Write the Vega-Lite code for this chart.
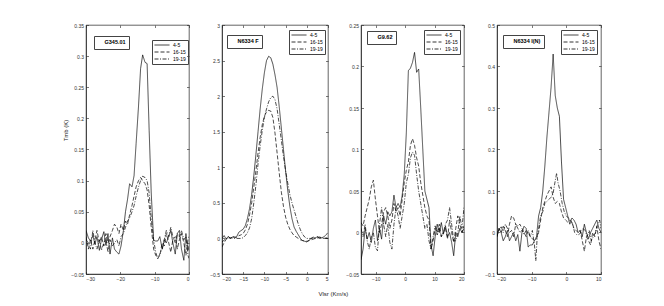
{
  "$schema": "https://vega.github.io/schema/vega-lite/v6.json",
  "padding": {"left": 62, "top": 22, "right": 5, "bottom": 5},
  "background": "white",
  "bounds": "flush",
  "spacing": 33,
  "title": {"text": "Vlsr (Km/s)", "orient": "bottom", "anchor": "middle", "fontSize": 6, "fontWeight": "normal", "font": "Liberation Sans", "color": "#222", "offset": 9},
  "config": {
    "font": "Liberation Sans",
    "view": {"stroke": "#222", "strokeWidth": 0.7},
    "axis": {"grid": false, "domainColor": "#222", "domainWidth": 0.7, "tickColor": "#222", "tickWidth": 0.6, "tickSize": -2.5, "labelPadding": 5, "labelFontSize": 5, "labelColor": "#333", "labelFont": "Liberation Sans", "titleFontSize": 6, "titleFontWeight": "normal", "titleColor": "#222"},
    "legend": {"title": null}
  },
  "resolve": {
    "scale": {"x": "independent", "y": "independent", "color": "independent", "strokeDash": "independent"},
    "legend": {"color": "independent", "strokeDash": "independent"}
  },
  "datasets": {
    "p1": [
      {"s":"4-5","v":-30,"t":0.02},{"s":"4-5","v":-29.3,"t":0.008},{"s":"4-5","v":-28.7,"t":0.003},{"s":"4-5","v":-28,"t":0.012},{"s":"4-5","v":-27.4,"t":-0.002},{"s":"4-5","v":-26.8,"t":0.01},{"s":"4-5","v":-26.1,"t":-0.012},{"s":"4-5","v":-25.5,"t":0.005},{"s":"4-5","v":-24.8,"t":0.018},{"s":"4-5","v":-24.2,"t":-0.004},{"s":"4-5","v":-23.6,"t":0.015},{"s":"4-5","v":-23,"t":-0.018},{"s":"4-5","v":-22.3,"t":0.008},{"s":"4-5","v":-21.7,"t":-0.01},{"s":"4-5","v":-21,"t":-0.015},{"s":"4-5","v":-20.4,"t":-0.018},{"s":"4-5","v":-19.8,"t":-0.005},{"s":"4-5","v":-19.1,"t":0.02},{"s":"4-5","v":-18.5,"t":0.05},{"s":"4-5","v":-17.9,"t":0.07},{"s":"4-5","v":-17.3,"t":0.095},{"s":"4-5","v":-16.6,"t":0.09},{"s":"4-5","v":-16,"t":0.108},{"s":"4-5","v":-15.4,"t":0.16},{"s":"4-5","v":-14.7,"t":0.22},{"s":"4-5","v":-14.1,"t":0.28},{"s":"4-5","v":-13.5,"t":0.302},{"s":"4-5","v":-12.8,"t":0.29},{"s":"4-5","v":-12.2,"t":0.288},{"s":"4-5","v":-11.6,"t":0.18},{"s":"4-5","v":-11,"t":0.08},{"s":"4-5","v":-10.3,"t":0.004},{"s":"4-5","v":-9.7,"t":0.003},{"s":"4-5","v":-9.1,"t":0.003},{"s":"4-5","v":-8.5,"t":0.01},{"s":"4-5","v":-7.8,"t":-0.01},{"s":"4-5","v":-7.2,"t":0.005},{"s":"4-5","v":-6.6,"t":0.0},{"s":"4-5","v":-5.9,"t":0.01},{"s":"4-5","v":-5.3,"t":0.02},{"s":"4-5","v":-4.7,"t":0.0},{"s":"4-5","v":-4,"t":-0.018},{"s":"4-5","v":-3.4,"t":0.015},{"s":"4-5","v":-2.8,"t":0.02},{"s":"4-5","v":-2.2,"t":-0.01},{"s":"4-5","v":-1.5,"t":-0.028},{"s":"4-5","v":-0.9,"t":0.015},{"s":"4-5","v":-0.3,"t":-0.012},{"s":"4-5","v":0,"t":-0.005},
      {"s":"16-15","v":-30,"t":0.01},{"s":"16-15","v":-29.3,"t":-0.01},{"s":"16-15","v":-28.7,"t":0.005},{"s":"16-15","v":-28,"t":-0.01},{"s":"16-15","v":-27.4,"t":0.005},{"s":"16-15","v":-26.8,"t":0.02},{"s":"16-15","v":-26.1,"t":0.0},{"s":"16-15","v":-25.5,"t":0.01},{"s":"16-15","v":-24.8,"t":-0.005},{"s":"16-15","v":-24.2,"t":0.015},{"s":"16-15","v":-23.6,"t":0.0},{"s":"16-15","v":-23,"t":0.01},{"s":"16-15","v":-22.3,"t":0.02},{"s":"16-15","v":-21.7,"t":0.03},{"s":"16-15","v":-21,"t":0.025},{"s":"16-15","v":-20.4,"t":0.015},{"s":"16-15","v":-19.8,"t":0.03},{"s":"16-15","v":-19.1,"t":0.02},{"s":"16-15","v":-18.5,"t":0.035},{"s":"16-15","v":-17.9,"t":0.03},{"s":"16-15","v":-17.3,"t":0.045},{"s":"16-15","v":-16.6,"t":0.06},{"s":"16-15","v":-16,"t":0.075},{"s":"16-15","v":-15.4,"t":0.09},{"s":"16-15","v":-14.7,"t":0.1},{"s":"16-15","v":-14.1,"t":0.105},{"s":"16-15","v":-13.5,"t":0.1},{"s":"16-15","v":-12.8,"t":0.095},{"s":"16-15","v":-12.2,"t":0.085},{"s":"16-15","v":-11.6,"t":0.06},{"s":"16-15","v":-11,"t":0.025},{"s":"16-15","v":-10.3,"t":-0.01},{"s":"16-15","v":-9.7,"t":-0.02},{"s":"16-15","v":-9.1,"t":-0.025},{"s":"16-15","v":-8.5,"t":-0.02},{"s":"16-15","v":-7.8,"t":0.0},{"s":"16-15","v":-7.2,"t":-0.005},{"s":"16-15","v":-6.6,"t":0.015},{"s":"16-15","v":-5.9,"t":0.0},{"s":"16-15","v":-5.3,"t":-0.015},{"s":"16-15","v":-4.7,"t":0.005},{"s":"16-15","v":-4,"t":0.01},{"s":"16-15","v":-3.4,"t":-0.01},{"s":"16-15","v":-2.8,"t":0.005},{"s":"16-15","v":-2.2,"t":0.015},{"s":"16-15","v":-1.5,"t":0.0},{"s":"16-15","v":-0.9,"t":-0.02},{"s":"16-15","v":-0.3,"t":0.005},{"s":"16-15","v":0,"t":0.01},
      {"s":"19-19","v":-30,"t":0.005},{"s":"19-19","v":-29.3,"t":0.0},{"s":"19-19","v":-28.7,"t":-0.01},{"s":"19-19","v":-28,"t":0.02},{"s":"19-19","v":-27.4,"t":0.0},{"s":"19-19","v":-26.8,"t":-0.01},{"s":"19-19","v":-26.1,"t":0.005},{"s":"19-19","v":-25.5,"t":-0.012},{"s":"19-19","v":-24.8,"t":0.0},{"s":"19-19","v":-24.2,"t":0.005},{"s":"19-19","v":-23.6,"t":-0.015},{"s":"19-19","v":-23,"t":0.005},{"s":"19-19","v":-22.3,"t":-0.005},{"s":"19-19","v":-21.7,"t":0.0},{"s":"19-19","v":-21,"t":0.005},{"s":"19-19","v":-20.4,"t":-0.005},{"s":"19-19","v":-19.8,"t":0.01},{"s":"19-19","v":-19.1,"t":0.015},{"s":"19-19","v":-18.5,"t":0.025},{"s":"19-19","v":-17.9,"t":0.035},{"s":"19-19","v":-17.3,"t":0.04},{"s":"19-19","v":-16.6,"t":0.05},{"s":"19-19","v":-16,"t":0.06},{"s":"19-19","v":-15.4,"t":0.075},{"s":"19-19","v":-14.7,"t":0.09},{"s":"19-19","v":-14.1,"t":0.1},{"s":"19-19","v":-13.5,"t":0.107},{"s":"19-19","v":-12.8,"t":0.105},{"s":"19-19","v":-12.2,"t":0.1},{"s":"19-19","v":-11.6,"t":0.08},{"s":"19-19","v":-11,"t":0.04},{"s":"19-19","v":-10.3,"t":0.005},{"s":"19-19","v":-9.7,"t":-0.015},{"s":"19-19","v":-9.1,"t":-0.025},{"s":"19-19","v":-8.5,"t":-0.018},{"s":"19-19","v":-7.8,"t":-0.01},{"s":"19-19","v":-7.2,"t":0.005},{"s":"19-19","v":-6.6,"t":0.02},{"s":"19-19","v":-5.9,"t":0.01},{"s":"19-19","v":-5.3,"t":0.025},{"s":"19-19","v":-4.7,"t":0.01},{"s":"19-19","v":-4,"t":0.0},{"s":"19-19","v":-3.4,"t":0.015},{"s":"19-19","v":-2.8,"t":0.01},{"s":"19-19","v":-2.2,"t":0.02},{"s":"19-19","v":-1.5,"t":0.005},{"s":"19-19","v":-0.9,"t":0.01},{"s":"19-19","v":-0.3,"t":-0.02},{"s":"19-19","v":0,"t":-0.025}
    ],
    "p2": [
      {"s":"4-5","v":-20,"t":0.0},{"s":"4-5","v":-19.5,"t":0.04},{"s":"4-5","v":-19,"t":-0.01},{"s":"4-5","v":-18.5,"t":0.03},{"s":"4-5","v":-18,"t":0.0},{"s":"4-5","v":-17.5,"t":0.02},{"s":"4-5","v":-17,"t":0.01},{"s":"4-5","v":-16.5,"t":0.03},{"s":"4-5","v":-16,"t":0.09},{"s":"4-5","v":-15.5,"t":0.11},{"s":"4-5","v":-15,"t":0.13},{"s":"4-5","v":-14.5,"t":0.18},{"s":"4-5","v":-14,"t":0.28},{"s":"4-5","v":-13.5,"t":0.42},{"s":"4-5","v":-13,"t":0.62},{"s":"4-5","v":-12.5,"t":0.88},{"s":"4-5","v":-12,"t":1.18},{"s":"4-5","v":-11.5,"t":1.5},{"s":"4-5","v":-11,"t":1.82},{"s":"4-5","v":-10.5,"t":2.1},{"s":"4-5","v":-10,"t":2.33},{"s":"4-5","v":-9.5,"t":2.5},{"s":"4-5","v":-9,"t":2.56},{"s":"4-5","v":-8.5,"t":2.54},{"s":"4-5","v":-8,"t":2.45},{"s":"4-5","v":-7.5,"t":2.3},{"s":"4-5","v":-7,"t":2.12},{"s":"4-5","v":-6.5,"t":1.85},{"s":"4-5","v":-6,"t":1.55},{"s":"4-5","v":-5.5,"t":1.25},{"s":"4-5","v":-5,"t":0.95},{"s":"4-5","v":-4.5,"t":0.68},{"s":"4-5","v":-4,"t":0.45},{"s":"4-5","v":-3.5,"t":0.28},{"s":"4-5","v":-3,"t":0.16},{"s":"4-5","v":-2.5,"t":0.1},{"s":"4-5","v":-2,"t":0.05},{"s":"4-5","v":-1.5,"t":0.0},{"s":"4-5","v":-1,"t":-0.03},{"s":"4-5","v":-0.5,"t":-0.04},{"s":"4-5","v":0,"t":-0.05},{"s":"4-5","v":0.5,"t":-0.03},{"s":"4-5","v":1,"t":0.0},{"s":"4-5","v":1.5,"t":0.02},{"s":"4-5","v":2,"t":0.0},{"s":"4-5","v":2.5,"t":0.03},{"s":"4-5","v":3,"t":0.0},{"s":"4-5","v":3.5,"t":0.01},{"s":"4-5","v":4,"t":0.02},{"s":"4-5","v":4.5,"t":0.05},{"s":"4-5","v":5,"t":0.08},
      {"s":"16-15","v":-20,"t":-0.12},{"s":"16-15","v":-19.5,"t":-0.06},{"s":"16-15","v":-19,"t":-0.01},{"s":"16-15","v":-18.5,"t":0.02},{"s":"16-15","v":-18,"t":0.0},{"s":"16-15","v":-17.5,"t":0.03},{"s":"16-15","v":-17,"t":0.02},{"s":"16-15","v":-16.5,"t":0.01},{"s":"16-15","v":-16,"t":0.04},{"s":"16-15","v":-15.5,"t":0.05},{"s":"16-15","v":-15,"t":0.07},{"s":"16-15","v":-14.5,"t":0.12},{"s":"16-15","v":-14,"t":0.2},{"s":"16-15","v":-13.5,"t":0.33},{"s":"16-15","v":-13,"t":0.5},{"s":"16-15","v":-12.5,"t":0.72},{"s":"16-15","v":-12,"t":0.95},{"s":"16-15","v":-11.5,"t":1.2},{"s":"16-15","v":-11,"t":1.42},{"s":"16-15","v":-10.5,"t":1.6},{"s":"16-15","v":-10,"t":1.72},{"s":"16-15","v":-9.5,"t":1.78},{"s":"16-15","v":-9,"t":1.8},{"s":"16-15","v":-8.5,"t":1.79},{"s":"16-15","v":-8,"t":1.7},{"s":"16-15","v":-7.5,"t":1.48},{"s":"16-15","v":-7,"t":1.2},{"s":"16-15","v":-6.5,"t":0.92},{"s":"16-15","v":-6,"t":0.65},{"s":"16-15","v":-5.5,"t":0.45},{"s":"16-15","v":-5,"t":0.3},{"s":"16-15","v":-4.5,"t":0.2},{"s":"16-15","v":-4,"t":0.13},{"s":"16-15","v":-3.5,"t":0.08},{"s":"16-15","v":-3,"t":0.04},{"s":"16-15","v":-2.5,"t":0.02},{"s":"16-15","v":-2,"t":0.0},{"s":"16-15","v":-1.5,"t":-0.02},{"s":"16-15","v":-1,"t":-0.03},{"s":"16-15","v":0,"t":-0.04},{"s":"16-15","v":1,"t":-0.02},{"s":"16-15","v":2,"t":0.0},{"s":"16-15","v":3,"t":0.01},{"s":"16-15","v":4,"t":0.0},{"s":"16-15","v":5,"t":0.01},
      {"s":"19-19","v":-20,"t":-0.05},{"s":"19-19","v":-19,"t":0.0},{"s":"19-19","v":-18,"t":0.01},{"s":"19-19","v":-17,"t":0.0},{"s":"19-19","v":-16,"t":0.0},{"s":"19-19","v":-15.5,"t":0.0},{"s":"19-19","v":-15,"t":0.01},{"s":"19-19","v":-14.5,"t":0.04},{"s":"19-19","v":-14,"t":0.08},{"s":"19-19","v":-13.5,"t":0.15},{"s":"19-19","v":-13,"t":0.28},{"s":"19-19","v":-12.5,"t":0.5},{"s":"19-19","v":-12,"t":0.75},{"s":"19-19","v":-11.5,"t":1.05},{"s":"19-19","v":-11,"t":1.3},{"s":"19-19","v":-10.5,"t":1.52},{"s":"19-19","v":-10,"t":1.7},{"s":"19-19","v":-9.5,"t":1.82},{"s":"19-19","v":-9,"t":1.92},{"s":"19-19","v":-8.5,"t":1.98},{"s":"19-19","v":-8,"t":2.0},{"s":"19-19","v":-7.5,"t":1.95},{"s":"19-19","v":-7,"t":1.82},{"s":"19-19","v":-6.5,"t":1.6},{"s":"19-19","v":-6,"t":1.38},{"s":"19-19","v":-5.5,"t":1.15},{"s":"19-19","v":-5,"t":0.95},{"s":"19-19","v":-4.5,"t":0.78},{"s":"19-19","v":-4,"t":0.62},{"s":"19-19","v":-3.5,"t":0.5},{"s":"19-19","v":-3,"t":0.4},{"s":"19-19","v":-2.5,"t":0.3},{"s":"19-19","v":-2,"t":0.2},{"s":"19-19","v":-1.5,"t":0.12},{"s":"19-19","v":-1,"t":0.06},{"s":"19-19","v":-0.5,"t":0.02},{"s":"19-19","v":0,"t":0.0},{"s":"19-19","v":1,"t":0.0},{"s":"19-19","v":2,"t":0.01},{"s":"19-19","v":3,"t":0.02},{"s":"19-19","v":4,"t":0.0},{"s":"19-19","v":5,"t":0.0}
    ],
    "p3": [
      {"s":"4-5","v":-15,"t":-0.033},{"s":"4-5","v":-14.3,"t":-0.02},{"s":"4-5","v":-13.6,"t":0.005},{"s":"4-5","v":-12.9,"t":-0.008},{"s":"4-5","v":-12.2,"t":0.0},{"s":"4-5","v":-11.5,"t":-0.012},{"s":"4-5","v":-10.8,"t":0.005},{"s":"4-5","v":-10.1,"t":0.015},{"s":"4-5","v":-9.4,"t":-0.01},{"s":"4-5","v":-8.7,"t":0.005},{"s":"4-5","v":-8,"t":-0.008},{"s":"4-5","v":-7.3,"t":0.02},{"s":"4-5","v":-6.6,"t":0.01},{"s":"4-5","v":-5.9,"t":0.025},{"s":"4-5","v":-5.2,"t":0.02},{"s":"4-5","v":-4.5,"t":0.025},{"s":"4-5","v":-3.8,"t":0.045},{"s":"4-5","v":-3.1,"t":0.03},{"s":"4-5","v":-2.4,"t":0.035},{"s":"4-5","v":-1.7,"t":0.03},{"s":"4-5","v":-1,"t":0.045},{"s":"4-5","v":-0.3,"t":0.07},{"s":"4-5","v":0.4,"t":0.12},{"s":"4-5","v":1.1,"t":0.195},{"s":"4-5","v":1.8,"t":0.198},{"s":"4-5","v":2.5,"t":0.205},{"s":"4-5","v":3.2,"t":0.217},{"s":"4-5","v":3.9,"t":0.193},{"s":"4-5","v":4.6,"t":0.197},{"s":"4-5","v":5.3,"t":0.15},{"s":"4-5","v":6,"t":0.1},{"s":"4-5","v":6.7,"t":0.05},{"s":"4-5","v":7.4,"t":0.04},{"s":"4-5","v":8.1,"t":0.03},{"s":"4-5","v":8.8,"t":-0.015},{"s":"4-5","v":9.5,"t":-0.028},{"s":"4-5","v":10.2,"t":-0.005},{"s":"4-5","v":10.9,"t":0.01},{"s":"4-5","v":11.6,"t":0.0},{"s":"4-5","v":12.3,"t":0.012},{"s":"4-5","v":13,"t":-0.002},{"s":"4-5","v":13.7,"t":0.008},{"s":"4-5","v":14.4,"t":-0.005},{"s":"4-5","v":15.1,"t":0.0},{"s":"4-5","v":15.8,"t":-0.012},{"s":"4-5","v":16.5,"t":-0.028},{"s":"4-5","v":17.2,"t":0.0},{"s":"4-5","v":17.9,"t":-0.005},{"s":"4-5","v":18.6,"t":0.005},{"s":"4-5","v":19.3,"t":0.0},{"s":"4-5","v":20,"t":0.005},
      {"s":"16-15","v":-15,"t":0.012},{"s":"16-15","v":-14.3,"t":0.008},{"s":"16-15","v":-13.6,"t":0.02},{"s":"16-15","v":-12.9,"t":0.03},{"s":"16-15","v":-12.2,"t":0.04},{"s":"16-15","v":-11.5,"t":0.055},{"s":"16-15","v":-10.8,"t":0.063},{"s":"16-15","v":-10.1,"t":0.04},{"s":"16-15","v":-9.4,"t":0.02},{"s":"16-15","v":-8.7,"t":0.0},{"s":"16-15","v":-8,"t":0.01},{"s":"16-15","v":-7.3,"t":0.025},{"s":"16-15","v":-6.6,"t":0.03},{"s":"16-15","v":-5.9,"t":0.02},{"s":"16-15","v":-5.2,"t":0.005},{"s":"16-15","v":-4.5,"t":0.015},{"s":"16-15","v":-3.8,"t":0.035},{"s":"16-15","v":-3.1,"t":0.025},{"s":"16-15","v":-2.4,"t":0.03},{"s":"16-15","v":-1.7,"t":0.02},{"s":"16-15","v":-1,"t":0.04},{"s":"16-15","v":-0.3,"t":0.06},{"s":"16-15","v":0.4,"t":0.075},{"s":"16-15","v":1.1,"t":0.085},{"s":"16-15","v":1.8,"t":0.105},{"s":"16-15","v":2.5,"t":0.113},{"s":"16-15","v":3.2,"t":0.105},{"s":"16-15","v":3.9,"t":0.09},{"s":"16-15","v":4.6,"t":0.08},{"s":"16-15","v":5.3,"t":0.06},{"s":"16-15","v":6,"t":0.045},{"s":"16-15","v":6.7,"t":0.03},{"s":"16-15","v":7.4,"t":0.02},{"s":"16-15","v":8.1,"t":0.015},{"s":"16-15","v":8.8,"t":-0.02},{"s":"16-15","v":9.5,"t":-0.01},{"s":"16-15","v":10.2,"t":0.005},{"s":"16-15","v":10.9,"t":0.0},{"s":"16-15","v":11.6,"t":0.01},{"s":"16-15","v":12.3,"t":-0.005},{"s":"16-15","v":13,"t":0.0},{"s":"16-15","v":13.7,"t":0.005},{"s":"16-15","v":14.4,"t":-0.008},{"s":"16-15","v":15.1,"t":0.015},{"s":"16-15","v":15.8,"t":0.0},{"s":"16-15","v":16.5,"t":-0.012},{"s":"16-15","v":17.2,"t":0.005},{"s":"16-15","v":17.9,"t":0.02},{"s":"16-15","v":18.6,"t":0.01},{"s":"16-15","v":19.3,"t":0.0},{"s":"16-15","v":20,"t":0.008},
      {"s":"19-19","v":-15,"t":0.005},{"s":"19-19","v":-14.3,"t":-0.005},{"s":"19-19","v":-13.6,"t":0.01},{"s":"19-19","v":-12.9,"t":-0.01},{"s":"19-19","v":-12.2,"t":-0.02},{"s":"19-19","v":-11.5,"t":-0.005},{"s":"19-19","v":-10.8,"t":0.0},{"s":"19-19","v":-10.1,"t":-0.018},{"s":"19-19","v":-9.4,"t":-0.022},{"s":"19-19","v":-8.7,"t":0.01},{"s":"19-19","v":-8,"t":0.03},{"s":"19-19","v":-7.3,"t":0.01},{"s":"19-19","v":-6.6,"t":-0.005},{"s":"19-19","v":-5.9,"t":0.01},{"s":"19-19","v":-5.2,"t":-0.012},{"s":"19-19","v":-4.5,"t":-0.02},{"s":"19-19","v":-3.8,"t":0.01},{"s":"19-19","v":-3.1,"t":0.03},{"s":"19-19","v":-2.4,"t":0.02},{"s":"19-19","v":-1.7,"t":0.005},{"s":"19-19","v":-1,"t":0.02},{"s":"19-19","v":-0.3,"t":0.035},{"s":"19-19","v":0.4,"t":0.06},{"s":"19-19","v":1.1,"t":0.07},{"s":"19-19","v":1.8,"t":0.09},{"s":"19-19","v":2.5,"t":0.097},{"s":"19-19","v":3.2,"t":0.093},{"s":"19-19","v":3.9,"t":0.07},{"s":"19-19","v":4.6,"t":0.05},{"s":"19-19","v":5.3,"t":0.035},{"s":"19-19","v":6,"t":0.02},{"s":"19-19","v":6.7,"t":0.005},{"s":"19-19","v":7.4,"t":0.01},{"s":"19-19","v":8.1,"t":-0.01},{"s":"19-19","v":8.8,"t":-0.02},{"s":"19-19","v":9.5,"t":-0.005},{"s":"19-19","v":10.2,"t":0.008},{"s":"19-19","v":10.9,"t":-0.003},{"s":"19-19","v":11.6,"t":0.005},{"s":"19-19","v":12.3,"t":-0.005},{"s":"19-19","v":13,"t":0.0},{"s":"19-19","v":13.7,"t":0.01},{"s":"19-19","v":14.4,"t":0.015},{"s":"19-19","v":15.1,"t":0.03},{"s":"19-19","v":15.8,"t":0.01},{"s":"19-19","v":16.5,"t":-0.01},{"s":"19-19","v":17.2,"t":-0.01},{"s":"19-19","v":17.9,"t":0.0},{"s":"19-19","v":18.6,"t":0.02},{"s":"19-19","v":19.3,"t":0.005},{"s":"19-19","v":20,"t":0.03}
    ],
    "p4": [
      {"s":"4-5","v":-20,"t":-0.01},{"s":"4-5","v":-19.4,"t":0.01},{"s":"4-5","v":-18.8,"t":0.0},{"s":"4-5","v":-18.2,"t":-0.02},{"s":"4-5","v":-17.6,"t":-0.01},{"s":"4-5","v":-17,"t":0.005},{"s":"4-5","v":-16.4,"t":-0.02},{"s":"4-5","v":-15.8,"t":-0.01},{"s":"4-5","v":-15.2,"t":0.0},{"s":"4-5","v":-14.6,"t":-0.02},{"s":"4-5","v":-14,"t":-0.005},{"s":"4-5","v":-13.4,"t":-0.045},{"s":"4-5","v":-12.8,"t":0.0},{"s":"4-5","v":-12.2,"t":0.015},{"s":"4-5","v":-11.6,"t":0.01},{"s":"4-5","v":-11,"t":-0.035},{"s":"4-5","v":-10.4,"t":-0.03},{"s":"4-5","v":-9.8,"t":-0.03},{"s":"4-5","v":-9.2,"t":-0.02},{"s":"4-5","v":-8.6,"t":-0.01},{"s":"4-5","v":-8,"t":0.04},{"s":"4-5","v":-7.4,"t":0.06},{"s":"4-5","v":-6.8,"t":0.1},{"s":"4-5","v":-6.2,"t":0.16},{"s":"4-5","v":-5.6,"t":0.23},{"s":"4-5","v":-5,"t":0.29},{"s":"4-5","v":-4.4,"t":0.35},{"s":"4-5","v":-3.8,"t":0.43},{"s":"4-5","v":-3.2,"t":0.33},{"s":"4-5","v":-2.6,"t":0.3},{"s":"4-5","v":-2,"t":0.28},{"s":"4-5","v":-1.4,"t":0.17},{"s":"4-5","v":-0.8,"t":0.08},{"s":"4-5","v":-0.2,"t":0.06},{"s":"4-5","v":0.4,"t":0.04},{"s":"4-5","v":1,"t":0.02},{"s":"4-5","v":1.6,"t":0.035},{"s":"4-5","v":2.2,"t":0.03},{"s":"4-5","v":2.8,"t":0.02},{"s":"4-5","v":3.4,"t":0.0},{"s":"4-5","v":4,"t":0.005},{"s":"4-5","v":4.6,"t":-0.01},{"s":"4-5","v":5.2,"t":0.02},{"s":"4-5","v":5.8,"t":0.0},{"s":"4-5","v":6.4,"t":-0.015},{"s":"4-5","v":7,"t":0.0},{"s":"4-5","v":7.6,"t":0.01},{"s":"4-5","v":8.2,"t":0.02},{"s":"4-5","v":8.8,"t":0.03},{"s":"4-5","v":9.4,"t":0.01},{"s":"4-5","v":10,"t":0.0},
      {"s":"16-15","v":-20,"t":-0.01},{"s":"16-15","v":-19.4,"t":0.01},{"s":"16-15","v":-18.8,"t":0.0},{"s":"16-15","v":-18.2,"t":0.015},{"s":"16-15","v":-17.6,"t":0.005},{"s":"16-15","v":-17,"t":-0.01},{"s":"16-15","v":-16.4,"t":0.02},{"s":"16-15","v":-15.8,"t":0.04},{"s":"16-15","v":-15.2,"t":0.035},{"s":"16-15","v":-14.6,"t":0.02},{"s":"16-15","v":-14,"t":0.015},{"s":"16-15","v":-13.4,"t":0.02},{"s":"16-15","v":-12.8,"t":0.01},{"s":"16-15","v":-12.2,"t":0.0},{"s":"16-15","v":-11.6,"t":-0.01},{"s":"16-15","v":-11,"t":0.005},{"s":"16-15","v":-10.4,"t":-0.01},{"s":"16-15","v":-9.8,"t":-0.015},{"s":"16-15","v":-9.2,"t":-0.02},{"s":"16-15","v":-8.6,"t":-0.015},{"s":"16-15","v":-8,"t":0.0},{"s":"16-15","v":-7.4,"t":0.03},{"s":"16-15","v":-6.8,"t":0.06},{"s":"16-15","v":-6.2,"t":0.075},{"s":"16-15","v":-5.6,"t":0.09},{"s":"16-15","v":-5,"t":0.1},{"s":"16-15","v":-4.4,"t":0.11},{"s":"16-15","v":-3.8,"t":0.085},{"s":"16-15","v":-3.2,"t":0.07},{"s":"16-15","v":-2.6,"t":0.075},{"s":"16-15","v":-2,"t":0.07},{"s":"16-15","v":-1.4,"t":0.05},{"s":"16-15","v":-0.8,"t":0.035},{"s":"16-15","v":-0.2,"t":0.03},{"s":"16-15","v":0.4,"t":0.025},{"s":"16-15","v":1,"t":0.03},{"s":"16-15","v":1.6,"t":0.025},{"s":"16-15","v":2.2,"t":0.01},{"s":"16-15","v":2.8,"t":0.005},{"s":"16-15","v":3.4,"t":0.0},{"s":"16-15","v":4,"t":0.005},{"s":"16-15","v":4.6,"t":-0.02},{"s":"16-15","v":5.2,"t":-0.045},{"s":"16-15","v":5.8,"t":-0.01},{"s":"16-15","v":6.4,"t":-0.02},{"s":"16-15","v":7,"t":-0.03},{"s":"16-15","v":7.6,"t":0.0},{"s":"16-15","v":8.2,"t":-0.01},{"s":"16-15","v":8.8,"t":0.015},{"s":"16-15","v":9.4,"t":-0.02},{"s":"16-15","v":10,"t":-0.04},
      {"s":"19-19","v":-20,"t":0.0},{"s":"19-19","v":-19.4,"t":0.005},{"s":"19-19","v":-18.8,"t":0.015},{"s":"19-19","v":-18.2,"t":0.0},{"s":"19-19","v":-17.6,"t":0.02},{"s":"19-19","v":-17,"t":0.01},{"s":"19-19","v":-16.4,"t":0.0},{"s":"19-19","v":-15.8,"t":0.005},{"s":"19-19","v":-15.2,"t":-0.01},{"s":"19-19","v":-14.6,"t":0.02},{"s":"19-19","v":-14,"t":0.01},{"s":"19-19","v":-13.4,"t":0.0},{"s":"19-19","v":-12.8,"t":0.005},{"s":"19-19","v":-12.2,"t":-0.005},{"s":"19-19","v":-11.6,"t":0.005},{"s":"19-19","v":-11,"t":0.0},{"s":"19-19","v":-10.4,"t":-0.01},{"s":"19-19","v":-9.8,"t":0.005},{"s":"19-19","v":-9.2,"t":-0.03},{"s":"19-19","v":-8.8,"t":-0.068},{"s":"19-19","v":-8.4,"t":-0.01},{"s":"19-19","v":-8,"t":0.01},{"s":"19-19","v":-7.4,"t":0.04},{"s":"19-19","v":-6.8,"t":0.05},{"s":"19-19","v":-6.2,"t":0.07},{"s":"19-19","v":-5.6,"t":0.075},{"s":"19-19","v":-5,"t":0.08},{"s":"19-19","v":-4.4,"t":0.085},{"s":"19-19","v":-3.8,"t":0.095},{"s":"19-19","v":-3.2,"t":0.125},{"s":"19-19","v":-2.8,"t":0.143},{"s":"19-19","v":-2.4,"t":0.12},{"s":"19-19","v":-1.8,"t":0.1},{"s":"19-19","v":-1.2,"t":0.07},{"s":"19-19","v":-0.6,"t":0.05},{"s":"19-19","v":0,"t":0.04},{"s":"19-19","v":0.6,"t":0.035},{"s":"19-19","v":1.2,"t":0.03},{"s":"19-19","v":1.8,"t":0.02},{"s":"19-19","v":2.4,"t":0.0},{"s":"19-19","v":3,"t":-0.005},{"s":"19-19","v":3.6,"t":-0.005},{"s":"19-19","v":4.2,"t":0.0},{"s":"19-19","v":4.8,"t":0.01},{"s":"19-19","v":5.4,"t":0.005},{"s":"19-19","v":6,"t":-0.01},{"s":"19-19","v":6.6,"t":0.005},{"s":"19-19","v":7.2,"t":-0.02},{"s":"19-19","v":7.8,"t":-0.01},{"s":"19-19","v":8.4,"t":0.0},{"s":"19-19","v":9,"t":0.02},{"s":"19-19","v":9.6,"t":0.03},{"s":"19-19","v":10,"t":0.01}
    ]
  },
  "hconcat": [
    {
      "width": 103, "height": 249,
      "data": {"name": "p1"},
      "resolve": {"axis": {"x": "independent", "y": "independent"}},
      "layer": [
        {
          "mark": {"type": "line", "strokeWidth": 0.7, "clip": true},
          "encoding": {
            "x": {"field": "v", "type": "quantitative", "scale": {"domain": [-30, 0], "nice": false, "zero": false}, "axis": {"values": [-30, -20, -10, 0], "title": null}},
            "y": {"field": "t", "type": "quantitative", "scale": {"domain": [-0.05, 0.35], "nice": false, "zero": false}, "axis": {"values": [-0.05, 0, 0.05, 0.1, 0.15, 0.2, 0.25, 0.3, 0.35], "format": ".2~f", "title": "Tmb (K)", "titleY": 105, "titlePadding": 2}},
            "strokeDash": {"field": "s", "type": "nominal", "scale": {"domain": ["4-5", "16-15", "19-19"], "range": [[1, 0], [4, 2], [4, 1.5, 1, 1.5]]}, "legend": {"orient": "none", "legendX": 66, "legendY": 15, "symbolType": "stroke", "symbolSize": 225, "symbolStrokeColor": "black", "symbolStrokeWidth": 0.8, "labelFontSize": 5, "labelOffset": 3, "clipHeight": 6, "rowPadding": 1, "padding": 2, "strokeColor": "#444", "title": null}},
            "color": {"datum": "G345.01", "type": "nominal", "scale": {"range": ["black"]}, "legend": {"orient": "none", "legendX": 8, "legendY": 11, "title": null, "strokeColor": "#444", "padding": 3, "labelFontSize": 5.5, "labelFontWeight": "bold", "symbolSize": 0, "symbolStrokeWidth": 0, "symbolOpacity": 0, "labelOffset": 2}}
          }
        },
        {
          "mark": {"type": "point", "opacity": 0},
          "encoding": {
            "x": {"field": "v", "type": "quantitative", "axis": {"orient": "top", "values": [-30, -20, -10, 0], "labels": false, "domain": false, "title": null}},
            "y": {"field": "t", "type": "quantitative", "axis": {"orient": "right", "values": [-0.05, 0, 0.05, 0.1, 0.15, 0.2, 0.25, 0.3, 0.35], "labels": false, "domain": false, "title": null}}
          }
        }
      ]
    },
    {
      "width": 106, "height": 249,
      "data": {"name": "p2"},
      "resolve": {"axis": {"x": "independent", "y": "independent"}},
      "layer": [
        {
          "mark": {"type": "line", "strokeWidth": 0.7, "clip": true},
          "encoding": {
            "x": {"field": "v", "type": "quantitative", "scale": {"domain": [-20, 5], "nice": false, "zero": false}, "axis": {"values": [-20, -15, -10, -5, 0, 5], "title": null}},
            "y": {"field": "t", "type": "quantitative", "scale": {"domain": [-0.5, 3], "nice": false, "zero": false}, "axis": {"values": [-0.5, 0, 0.5, 1, 1.5, 2, 2.5, 3], "format": ".1~f", "title": null}},
            "strokeDash": {"field": "s", "type": "nominal", "scale": {"domain": ["4-5", "16-15", "19-19"], "range": [[1, 0], [4, 2], [4, 1.5, 1, 1.5]]}, "legend": {"orient": "none", "legendX": 67, "legendY": 5, "symbolType": "stroke", "symbolSize": 225, "symbolStrokeColor": "black", "symbolStrokeWidth": 0.8, "labelFontSize": 5, "labelOffset": 3, "clipHeight": 6, "rowPadding": 1, "padding": 2, "strokeColor": "#444", "title": null}},
            "color": {"datum": "N6334 F", "type": "nominal", "scale": {"range": ["black"]}, "legend": {"orient": "none", "legendX": 5, "legendY": 10, "title": null, "strokeColor": "#444", "padding": 3, "labelFontSize": 5.5, "labelFontWeight": "bold", "symbolSize": 0, "symbolStrokeWidth": 0, "symbolOpacity": 0, "labelOffset": 2}}
          }
        },
        {
          "mark": {"type": "point", "opacity": 0},
          "encoding": {
            "x": {"field": "v", "type": "quantitative", "axis": {"orient": "top", "values": [-20, -15, -10, -5, 0, 5], "labels": false, "domain": false, "title": null}},
            "y": {"field": "t", "type": "quantitative", "axis": {"orient": "right", "values": [-0.5, 0, 0.5, 1, 1.5, 2, 2.5, 3], "labels": false, "domain": false, "title": null}}
          }
        }
      ]
    },
    {
      "width": 103, "height": 249,
      "data": {"name": "p3"},
      "resolve": {"axis": {"x": "independent", "y": "independent"}},
      "layer": [
        {
          "mark": {"type": "line", "strokeWidth": 0.7, "clip": true},
          "encoding": {
            "x": {"field": "v", "type": "quantitative", "scale": {"domain": [-15, 20], "nice": false, "zero": false}, "axis": {"values": [-10, 0, 10, 20], "title": null}},
            "y": {"field": "t", "type": "quantitative", "scale": {"domain": [-0.05, 0.25], "nice": false, "zero": false}, "axis": {"values": [-0.05, 0, 0.05, 0.1, 0.15, 0.2, 0.25], "format": ".2~f", "title": null}},
            "strokeDash": {"field": "s", "type": "nominal", "scale": {"domain": ["4-5", "16-15", "19-19"], "range": [[1, 0], [4, 2], [4, 1.5, 1, 1.5]]}, "legend": {"orient": "none", "legendX": 63, "legendY": 5, "symbolType": "stroke", "symbolSize": 225, "symbolStrokeColor": "black", "symbolStrokeWidth": 0.8, "labelFontSize": 5, "labelOffset": 3, "clipHeight": 6, "rowPadding": 1, "padding": 2, "strokeColor": "#444", "title": null}},
            "color": {"datum": "G9.62", "type": "nominal", "scale": {"range": ["black"]}, "legend": {"orient": "none", "legendX": 6, "legendY": 6, "title": null, "strokeColor": "#444", "padding": 3, "labelFontSize": 5.5, "labelFontWeight": "bold", "symbolSize": 0, "symbolStrokeWidth": 0, "symbolOpacity": 0, "labelOffset": 2}}
          }
        },
        {
          "mark": {"type": "point", "opacity": 0},
          "encoding": {
            "x": {"field": "v", "type": "quantitative", "axis": {"orient": "top", "values": [-10, 0, 10, 20], "labels": false, "domain": false, "title": null}},
            "y": {"field": "t", "type": "quantitative", "axis": {"orient": "right", "values": [-0.05, 0, 0.05, 0.1, 0.15, 0.2, 0.25], "labels": false, "domain": false, "title": null}}
          }
        }
      ]
    },
    {
      "width": 104, "height": 249,
      "data": {"name": "p4"},
      "resolve": {"axis": {"x": "independent", "y": "independent"}},
      "layer": [
        {
          "mark": {"type": "line", "strokeWidth": 0.7, "clip": true},
          "encoding": {
            "x": {"field": "v", "type": "quantitative", "scale": {"domain": [-20, 10], "nice": false, "zero": false}, "axis": {"values": [-20, -10, 0, 10], "title": null}},
            "y": {"field": "t", "type": "quantitative", "scale": {"domain": [-0.1, 0.5], "nice": false, "zero": false}, "axis": {"values": [-0.1, 0, 0.1, 0.2, 0.3, 0.4, 0.5], "format": ".1~f", "title": null}},
            "strokeDash": {"field": "s", "type": "nominal", "scale": {"domain": ["4-5", "16-15", "19-19"], "range": [[1, 0], [4, 2], [4, 1.5, 1, 1.5]]}, "legend": {"orient": "none", "legendX": 64, "legendY": 5, "symbolType": "stroke", "symbolSize": 225, "symbolStrokeColor": "black", "symbolStrokeWidth": 0.8, "labelFontSize": 5, "labelOffset": 3, "clipHeight": 6, "rowPadding": 1, "padding": 2, "strokeColor": "#444", "title": null}},
            "color": {"datum": "N6334 I(N)", "type": "nominal", "scale": {"range": ["black"]}, "legend": {"orient": "none", "legendX": 6, "legendY": 10, "title": null, "strokeColor": "#444", "padding": 3, "labelFontSize": 5.5, "labelFontWeight": "bold", "symbolSize": 0, "symbolStrokeWidth": 0, "symbolOpacity": 0, "labelOffset": 2}}
          }
        },
        {
          "mark": {"type": "point", "opacity": 0},
          "encoding": {
            "x": {"field": "v", "type": "quantitative", "axis": {"orient": "top", "values": [-20, -10, 0, 10], "labels": false, "domain": false, "title": null}},
            "y": {"field": "t", "type": "quantitative", "axis": {"orient": "right", "values": [-0.1, 0, 0.1, 0.2, 0.3, 0.4, 0.5], "labels": false, "domain": false, "title": null}}
          }
        }
      ]
    }
  ]
}
